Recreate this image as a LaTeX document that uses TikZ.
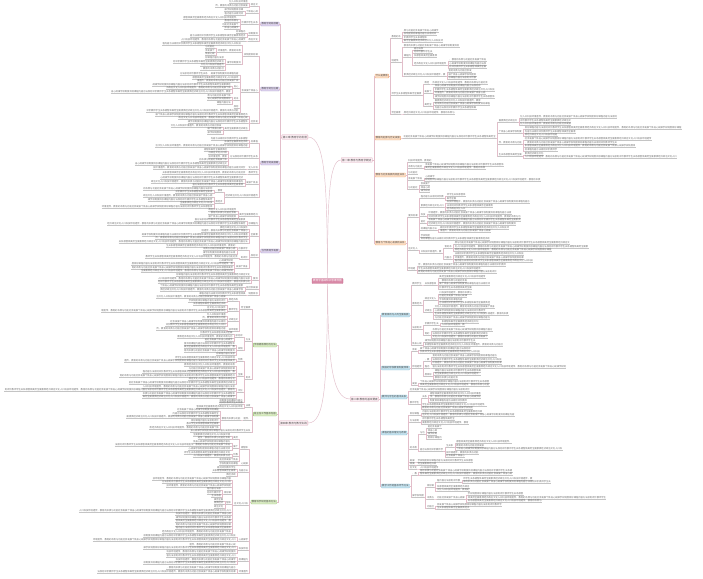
\documentclass[tikz,border=0pt]{standalone}
\usepackage{fontspec}
\newfontfamily\cjk{Noto Sans CJK SC}
\definecolor{lncol}{RGB}{226,190,202}
\definecolor{ulcol}{RGB}{196,196,196}
\definecolor{txcol}{RGB}{105,105,105}
\definecolor{bxtx}{RGB}{80,80,80}
\definecolor{ofill}{RGB}{252,222,196}
\definecolor{odraw}{RGB}{238,168,118}
\definecolor{bfill}{RGB}{196,226,238}
\definecolor{bdraw}{RGB}{128,186,210}
\definecolor{pfill}{RGB}{222,212,238}
\definecolor{pdraw}{RGB}{165,145,200}
\definecolor{gfill}{RGB}{218,236,196}
\definecolor{gdraw}{RGB}{150,196,110}
\definecolor{cfill}{RGB}{250,236,241}
\definecolor{cdraw}{RGB}{222,168,186}
\definecolor{mfill}{RGB}{216,136,166}
\definecolor{mdraw}{RGB}{196,106,140}
\newcount\gpos
\newcount\fcnt
\def\mmch{\ifcase\gpos 教\or 育\or 的\or 本\or 质\or 与\or 功\or 能\or 社\or 会\or 发\or 展\or 个\or 体\or 身\or 心\or 规\or 律\or 学\or 校\or 制\or 度\or 目\or 标\or 课\or 程\or 内\or 容\or 方\or 法\or 原\or 则\or 评\or 价\or 教\or 师\or 学\or 生\or 关\or 系\or 德\or 智\or 体\or 美\or 劳\or 全\or 面\or 素\or 质\or 经\or 济\or 政\or 治\or 文\or 化\or 人\or 口\or 科\or 技\or 环\or 境\or 遗\or 传\or ，\fi}
\newcommand\mmF[1]{\fcnt=0\relax
  \loop\ifnum\fcnt<#1\relax
    \mmch
    \global\advance\gpos by 1\relax
    \ifnum\gpos>63\relax\global\gpos=0\relax\fi
    \advance\fcnt by 1\relax
  \repeat}
\tikzset{
  lf/.style={font=\cjk\fontsize{2.3}{2.5}\selectfont, inner sep=0.2pt, text=txcol},
  ul/.style={draw=ulcol, line width=0.2pt},
  ln/.style={draw=lncol, line width=0.25pt},
  mainln/.style={draw=lncol, line width=0.45pt},
  bx/.style={font=\cjk\fontsize{2.4}{2.8}\selectfont, inner sep=0.8pt, rounded corners=0.5pt, line width=0.3pt, text=bxtx},
  obx/.style={bx, fill=ofill, draw=odraw},
  bbx/.style={bx, fill=bfill, draw=bdraw},
  pbx/.style={bx, fill=pfill, draw=pdraw},
  gbx/.style={bx, fill=gfill, draw=gdraw},
  chbx/.style={bx, font=\cjk\fontsize{2.6}{3}\selectfont, fill=cfill, draw=cdraw, inner sep=1pt},
  ctrbx/.style={bx, font=\cjk\fontsize{2.6}{3}\selectfont, fill=mfill, draw=mdraw, text=white, inner sep=1.2pt}
}
% right-side helpers
\newcommand\mmRB[5]{\node[#5,anchor=west,xshift=2.4pt] (#1) at (#2 |- 0,#3) {#4};\draw[ln] (#2) -- ++(1.2,0) |- (#1.west);}
\newcommand\mmRS[4]{\node[lf,anchor=south west,xshift=2.4pt] (#1) at (#2 |- 0,#3) {\mmF{#4}};\draw[ul] (#1.south west) -- (#1.south east);\draw[ln] (#2) -- ++(1.2,0) |- (#1.south west);}
\newcommand\mmRL[3]{\foreach \yy/\nn [count=\i] in {#3}{\node[lf,anchor=south west,xshift=2.4pt] (#2-\i) at (#1 |- 0,\yy) {\mmF{\nn}};\draw[ul] (#2-\i.south west) -- (#2-\i.south east);\draw[ln] (#1) -- ++(1.2,0) |- (#2-\i.south west);}}
% left-side helpers
\newcommand\mmLB[5]{\node[#5,anchor=east,xshift=-2.4pt] (#1) at (#2 |- 0,#3) {#4};\draw[ln] (#2) -- ++(-1.2,0) |- (#1.east);}
\newcommand\mmLS[4]{\node[lf,anchor=south east,xshift=-2.4pt] (#1) at (#2 |- 0,#3) {\mmF{#4}};\draw[ul] (#1.south west) -- (#1.south east);\draw[ln] (#2) -- ++(-1.2,0) |- (#1.south east);}
\newcommand\mmLL[3]{\foreach \yy/\nn [count=\i] in {#3}{\node[lf,anchor=south east,xshift=-2.4pt] (#2-\i) at (#1 |- 0,\yy) {\mmF{\nn}};\draw[ul] (#2-\i.south west) -- (#2-\i.south east);\draw[ln] (#1) -- ++(-1.2,0) |- (#2-\i.south east);}}
\begin{document}
\begin{tikzpicture}[x=1pt,y=-1pt]
\useasboundingbox[fill=white] (0,0) rectangle (703,578);
% centre and chapters
\node[ctrbx] (ctr) at (327.5,281) {教育学基础知识思维导图};
\node[chbx,anchor=west] (ch1) at (341,160) {第一章 教育与教育学概述};
\node[chbx,anchor=west] (ch2) at (350,399) {第二章 教育的基本要素};
\node[chbx,anchor=east] (ch3) at (308,137) {第三章 教育学的发展};
\node[chbx,anchor=east] (ch4) at (308,423) {第四章 教育与教学实践};
\draw[mainln] (ctr.north) .. controls (327.5,200) and (329,160) .. (ch1.west);
\draw[mainln] (ctr.north) .. controls (327,190) and (326,137) .. (ch3.east);
\draw[mainln] (ctr.south) .. controls (328,360) and (332,399) .. (ch2.west);
\draw[mainln] (ctr.south) .. controls (327,385) and (325,423) .. (ch4.east);
% ================= chapter 1 =================
\mmRB{O1}{ch1.east}{76}{什么是教育}{obx}
\mmRB{O2}{ch1.east}{138}{教育的起源与历史发展}{obx}
\mmRB{O3}{ch1.east}{175}{教育与社会发展的相互关系}{obx}
\mmRB{O4}{ch1.east}{243}{教育与个体身心发展的关系}{obx}
\mmRS{a1}{O1.east}{38}{4}
\mmRL{a1.south east}{a1l}{32/15,35.5/14,39/10,42.5/17}
\mmRS{a2}{O1.east}{62}{4}
\mmRL{a2.south east}{a2l}{47/24}
\mmRS{b1}{a2.south east}{57}{3}
\mmRL{b1.south east}{b1l}{50/4,53.5/8,57/10}
\mmRS{b2}{b1.south east}{65}{14}
\mmRL{b2.south east}{b2l}{61.5/16,65/16,68.5/16}
\mmRS{b3}{a2.south east}{76}{18}
\mmRL{b3.south east}{b3l}{72.5/10,76/12,79.5/12}
\mmRS{a3}{O1.east}{95}{13}
\mmRS{c1}{a3.south east}{84}{2}
\mmRL{c1.south east}{c1l}{84/24}
\mmRS{c2}{a3.south east}{93}{3}
\mmRL{c2.south east}{c2l}{87.5/20,91/26,94.5/22,98/26}
\mmRS{c3}{a3.south east}{106}{3}
\mmRL{c3.south east}{c3l}{102/20,105.5/24,109/18}
\mmRS{a4}{O1.east}{114}{4}
\mmRL{a4.south east}{a4l}{114/22}
\mmRS{p2}{O2.east}{138}{40}
\mmRS{d1}{p2.south east}{122}{8}
\mmRL{d1.south east}{d1l}{118.5/42,122/22,125.5/22}
\mmRS{d2}{p2.south east}{133}{10}
\mmRL{d2.south east}{d2l}{129.5/68,133/22,136.5/14}
\mmRS{d3}{p2.south east}{144}{10}
\mmRL{d3.south east}{d3l}{140.5/55,144/40,147.5/48,151/14}
\mmRS{d4}{p2.south east}{156}{10}
\mmRL{d4.south east}{d4l}{155/8,158.5/66}
\mmRL{O3.east}{o3a}{162/10}
\mmRS{e1}{O3.east}{168}{6}
\mmRL{e1.south east}{e1l}{166/34,169.5/26}
\mmRL{O3.east}{o3b}{174/4}
\mmRS{e2}{O3.east}{180}{6}
\mmRL{e2.south east}{e2l}{178/4,181.5/50}
\mmRS{e3}{O3.east}{189}{4}
\mmRL{e3.south east}{e3l}{185.5/4,189/4,192.5/4}
\mmRS{f1}{O4.east}{217}{4}
\mmRS{g1}{f1.south east}{198}{10}
\mmRL{g1.south east}{g1l}{196.5/8,200/4}
\mmRS{g2}{f1.south east}{207}{10}
\mmRL{g2.south east}{g2l}{203.5/36,207/20,210.5/8}
\mmRS{g3}{f1.south east}{216}{2}
\mmRL{g3.south east}{g3l}{214.5/36,218/40}
\mmRS{g4}{f1.south east}{223}{2}
\mmRL{g4.south east}{g4l}{221.5/40,225/38}
\mmRS{g5}{f1.south east}{230}{7}
\mmRL{g5.south east}{g5l}{229/30,232.5/22}
\mmRL{f1.south east}{f1l}{237/4,240.5/30}
\mmRS{f2}{O4.east}{250}{4}
\mmRS{h1}{f2.south east}{253}{9}
\mmRS{i1}{h1.south east}{248}{3}
\mmRL{i1.south east}{i1l}{244.5/50,248/58,251.5/42}
\mmRS{i2}{h1.south east}{259}{3}
\mmRL{i2.south east}{i2l}{255.5/30,259/30,262.5/34}
\mmRS{f3}{O4.east}{270}{3}
\mmRL{f3.south east}{f3l}{266.5/38,270/28,273.5/34}
% ================= chapter 2 =================
\mmRB{B1}{ch2.east}{315}{教育目的与人的全面发展}{bbx}
\mmRB{B2}{ch2.east}{368}{我国的学校教育制度改革}{bbx}
\mmRB{B3}{ch2.east}{397}{教师与学生的基本关系}{bbx}
\mmRB{B4}{ch2.east}{433}{课程的基本理论与改革}{bbx}
\mmRB{B5}{ch2.east}{486}{教学工作的基本环节方法}{bbx}
\mmRS{j1}{B1.east}{285}{4}
\mmRS{j1a}{j1.south east}{285}{5}
\mmRL{j1a.south east}{j1al}{278.5/20,282/12,285.5/22,289/14}
\mmRS{j2}{B1.east}{305}{4}
\mmRS{k1}{j2.south east}{300}{5}
\mmRL{k1.south east}{k1l}{294/14,297.5/12,301/10,304.5/22}
\mmRS{k2}{j2.south east}{312}{3}
\mmRL{k2.south east}{k2l}{308.5/26,312/22,315.5/32,319/24}
\mmRS{j3}{B1.east}{329}{4}
\mmRS{k3}{j3.south east}{325}{6}
\mmRL{k3.south east}{k3l}{323/16,326.5/10}
\mmRS{k4}{j3.south east}{335}{2}
\mmRL{k4.south east}{k4l}{331.5/26,335/24,338.5/24}
\mmRS{j4}{B1.east}{345}{4}
\mmRL{j4.south east}{j4l}{342.5/22,346/34}
\mmRS{l1}{B2.east}{351}{2}
\mmRL{l1.south east}{l1l}{350/22,353.5/26}
\mmRS{l2}{B2.east}{368}{4}
\mmRS{m1}{l2.south east}{361}{2}
\mmRL{m1.south east}{m1l}{357.5/28,361/30,364.5/30}
\mmRS{m2}{l2.south east}{368}{2}
\mmRL{m2.south east}{m2l}{368/58}
\mmRS{m3}{l2.south east}{376}{3}
\mmRL{m3.south east}{m3l}{372/20,375.5/20,379/10}
\mmRS{l3}{B2.east}{385}{2}
\mmRL{l3.south east}{l3l}{383/30,386.5/30}
\mmRL{B3.east}{b3a}{391/26}
\mmRS{n1}{B3.east}{404}{4}
\mmRS{o1}{n1.south east}{398.5}{2}
\mmRL{o1.south east}{o1l}{395/22,398.5/22,402/16}
\mmRL{n1.south east}{n1l}{406/28,409.5/22}
\mmRS{p1}{B4.east}{415}{4}
\mmRL{p1.south east}{p1l}{413/26,416.5/40}
\mmRS{pp2}{B4.east}{422}{4}
\mmRL{pp2.south east}{pp2l}{420.5/14,424/20}
\mmRS{p3}{B4.east}{449}{3}
\mmRS{q1}{p3.south east}{434}{2}
\mmRL{q1.south east}{q1l}{428.5/6,432/4,435.5/4,439/6}
\mmRS{q2}{p3.south east}{451}{10}
\mmRS{r1}{q2.south east}{447}{3}
\mmRL{r1.south east}{r1l}{443.5/24,447/12,450.5/46}
\mmRL{q2.south east}{q2l}{454/14,457.5/8}
\mmRS{p4}{B4.east}{462}{2}
\mmRL{p4.south east}{p4l}{462/24}
\mmRS{p5}{B4.east}{465.5}{2}
\mmRL{p5.south east}{p5l}{465.5/8}
\mmRS{p6}{B4.east}{469}{3}
\mmRL{p6.south east}{p6l}{469/8}
\mmRS{s1}{B5.east}{475}{2}
\mmRL{s1.south east}{s1l}{472/40,475.5/40}
\mmRS{s2}{B5.east}{497}{5}
\mmRS{t1}{s2.south east}{487}{3}
\mmRS{u1}{t1.south east}{482}{10}
\mmRL{u1.south east}{u1l}{480/30,483.5/38}
\mmRL{t1.south east}{t1l}{488/14,491.5/14}
\mmRS{t2}{s2.south east}{499}{3}
\mmRS{u2}{t2.south east}{499}{12}
\mmRL{u2.south east}{u2l}{495.5/24,499/60,502.5/32}
\mmRS{t3}{s2.south east}{508}{3}
\mmRL{t3.south east}{t3l}{506/28,509.5/14}
% ================= chapter 3 =================
\mmLB{P1}{ch3.west}{24}{教育学的萌芽期}{pbx}
\mmLB{P2}{ch3.west}{89}{教育学的创立期}{pbx}
\mmLB{P3}{ch3.west}{163}{教育学的发展期}{pbx}
\mmLB{P4}{ch3.west}{251}{当代教育学发展}{pbx}
\mmLS{Pa}{P1.west}{6}{3}
\mmLL{Pa.south west}{Pal}{3.5/8,7/14}
\mmLS{Pb}{P1.west}{13.5}{5}
\mmLL{Pb.south west}{Pbl}{11.5/8,15/8}
\mmLS{Pc}{P1.west}{24}{7}
\mmLL{Pc.south west}{Pcl}{19/24,22.5/6,26/7,29.5/6}
\mmLS{Pd}{P1.west}{35}{4}
\mmLL{Pd.south west}{Pdl}{33.5/4,37/24}
\mmLS{Pe}{P1.west}{41}{4}
\mmLL{Pe.south west}{Pel}{41/28}
\mmLS{Pf}{P2.west}{56}{6}
\mmLL{Pf.south west}{Pfl}{45/34}
\mmLS{Pg}{Pf.south west}{52}{10}
\mmLL{Pg.south west}{Pgl}{48.5/4,52/4,55.5/4}
\mmLS{Ph}{Pf.south west}{64}{6}
\mmLL{Ph.south west}{Phl}{59.5/8,63/22,66.5/10,70/10}
\mmLS{Pi}{P2.west}{92}{7}
\mmLS{Pj}{Pi.south west}{75}{12}
\mmLL{Pj.south west}{Pjl}{75/12}
\mmLL{Pi.south west}{Pil}{79/20,82.5/18}
\mmLS{Pk}{Pi.south west}{88}{2}
\mmLL{Pk.south west}{Pkl}{86/34,89.5/28,93/52}
\mmLS{Pl}{Pi.south west}{100}{2}
\mmLL{Pl.south west}{Pll}{97/10,100.5/10,104/6}
\mmLL{Pi.south west}{Pil2}{108/2,112/40}
\mmLS{Pn}{P2.west}{123}{3}
\mmLL{Pn.south west}{Pnl}{116/40,119.5/30,123/26}
\mmLS{Po}{Pn.south west}{130}{10}
\mmLL{Po.south west}{Pol}{127/22,130.5/6,134/6}
\mmLS{Pp}{P3.west}{143}{3}
\mmLL{Pp.south west}{Ppl}{140/16,143.5/10,147/40}
\mmLS{Pq}{P3.west}{158}{12}
\mmLL{Pq.south west}{Pql}{151/10,154.5/8,158/8,161.5/12,165/40}
\mmLS{Pr}{P3.west}{169}{4}
\mmLL{Pr.south west}{Prl}{169/40}
\mmLS{Ps}{P3.west}{174}{4}
\mmLL{Ps.south west}{Psl}{174/36}
\mmLS{Pt}{P3.west}{184}{5}
\mmLL{Pt.south west}{Ptl}{179.5/36,183/40,186.5/22}
\mmLS{Pu}{P3.west}{197}{14}
\mmLS{Pv}{Pu.south west}{192}{3}
\mmLL{Pv.south west}{Pvl}{190/30,193.5/16}
\mmLS{Pw}{Pu.south west}{203}{3}
\mmLL{Pw.south west}{Pwl}{197.5/30,201/28,204.5/14,208/48}
\mmLS{Px1}{P4.west}{216}{8}
\mmLL{Px1.south west}{Px1l}{211/12,214.5/12,218/12}
\mmLS{Px2}{P4.west}{225}{4}
\mmLL{Px2.south west}{Px2l}{221.5/22,225/60}
\mmLS{Px3}{P4.west}{236}{3}
\mmLL{Px3.south west}{Px3l}{229/12,232.5/20,236/46,239.5/40,243/56}
\mmLS{Px4}{P4.west}{257}{3}
\mmLS{Py1}{Px4.south west}{250}{4}
\mmLL{Py1.south west}{Py1l}{247/30,250.5/14,254/14}
\mmLS{Py2}{Px4.south west}{259}{3}
\mmLL{Py2.south west}{Py2l}{258/40}
\mmLS{Py3}{Px4.south west}{268}{5}
\mmLL{Py3.south west}{Py3l}{262/6,265.5/44,269/44,272.5/40}
\mmLS{Px5}{P4.west}{280}{2}
\mmLL{Px5.south west}{Px5l}{276.5/32,280/40,283.5/40}
\mmLS{Px6}{P4.west}{289}{5}
\mmLL{Px6.south west}{Px6l}{287.5/36,291/36}
\mmLS{Px7}{P4.west}{295}{4}
\mmLL{Px7.south west}{Px7l}{295/20}
% ================= chapter 4 =================
\mmLB{G1}{ch4.west}{345}{学校德育原则与方法}{gbx}
\mmLB{G2}{ch4.west}{414}{班主任工作基本内容}{gbx}
\mmLB{G3}{ch4.west}{502}{教育科学研究基本方法}{gbx}
\mmLS{Ga}{G1.west}{309}{4}
\mmLS{Gb}{Ga.south west}{301}{4}
\mmLL{Gb.south west}{Gbl}{298.5/30,302/16}
\mmLS{Gc}{Ga.south west}{311}{4}
\mmLL{Gc.south west}{Gcl}{305.5/14,309/8,312.5/54}
\mmLS{Gd}{Ga.south west}{321}{4}
\mmLL{Gd.south west}{Gdl}{316/8,319.5/10,323/24,326.5/26}
\mmLS{Ge}{Ga.south west}{331}{4}
\mmLL{Ge.south west}{Gel}{330.5/30}
\mmLS{Gf}{G1.west}{341}{2}
\mmLS{Gg}{Gf.south west}{337.5}{3}
\mmLL{Gg.south west}{Ggl}{334.5/14,338/24,341.5/12}
\mmLS{Gh}{Gf.south west}{350}{2}
\mmLL{Gh.south west}{Ghl}{345/22,348.5/22,352/22,355.5/8}
\mmLS{Gi}{G1.west}{379}{2}
\mmLS{Gj}{Gi.south west}{361}{2}
\mmLL{Gj.south west}{Gjl}{359/26,362.5/48}
\mmLS{Gk}{Gi.south west}{376}{2}
\mmLL{Gk.south west}{Gkl}{366.5/22,370/20,373.5/40,377/50,380.5/20,384/46}
\mmLS{Gl}{Gi.south west}{392}{2}
\mmLL{Gl.south west}{Gll}{388/40,391.5/100,395/40,398.5/40}
\mmLL{Gi.south west}{Gil}{402/10}
\mmLS{Gm}{G2.west}{407}{2}
\mmLL{Gm.south west}{Gml}{404.5/10,408/20}
\mmLS{Gn}{G2.west}{420}{3}
\mmLS{Go}{Gn.south west}{420}{8}
\mmLL{Go.south west}{Gol}{411.5/18,415/20,418.5/40,422/12,425.5/14,429/30}
\mmLL{G2.west}{G2l}{432/26}
\mmLS{Gp}{G3.west}{449}{3}
\mmLS{Gq}{Gp.south west}{439}{2}
\mmLL{Gq.south west}{Gql}{436/16,439.5/14}
\mmLS{Gr}{Gp.south west}{448}{2}
\mmLL{Gr.south west}{Grl}{443/16,446.5/50,450/18}
\mmLS{Gs}{Gp.south west}{456}{2}
\mmLL{Gs.south west}{Gsl}{454/20,457.5/16}
\mmLL{Gp.south west}{Gpl}{461.5/8}
\mmLS{Gt}{G3.west}{465.5}{3}
\mmLL{Gt.south west}{Gtl}{465.5/8}
\mmLS{Gu}{G3.west}{472}{4}
\mmLL{Gu.south west}{Gul}{469/8,472.5/10,476/4}
\mmLS{Gv}{G3.west}{505}{6}
\mmLL{Gv.south west}{Gvl}{480/34,483.5/30,487/28}
\mmLS{Gw}{Gv.south west}{494}{3}
\mmLL{Gw.south west}{Gwl}{490.5/6,494/6,497.5/4}
\mmLS{Gx}{Gv.south west}{504}{2}
\mmLL{Gx.south west}{Gxl}{501/4,504.5/4,508/4}
\mmLL{Gv.south west}{Gvl2}{512/66,515.5/24,519/24,522.5/24,526/24,529.5/24,533/30}
\mmLS{Gy}{G3.west}{541}{4}
\mmLL{Gy.south west}{Gyl}{537.5/40,541/62}
\mmLS{Gz}{G3.west}{550}{4}
\mmLL{Gz.south west}{Gzl}{546/20,549.5/40,553/30}
\mmLS{Gaa}{G3.west}{561}{4}
\mmLL{Gaa.south west}{Gaal}{557.5/30,561/26,564.5/40}
\mmLS{Gab}{G3.west}{573}{4}
\mmLL{Gab.south west}{Gabl}{569/30,573/60}
\end{tikzpicture}
\end{document}
